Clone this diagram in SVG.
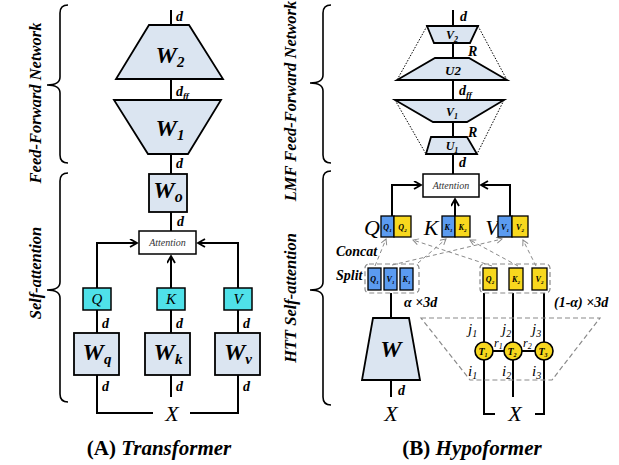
<svg xmlns="http://www.w3.org/2000/svg" width="619" height="465" viewBox="0 0 619 465" font-family="Liberation Serif, serif">
<style>
.bi{font-family:"Liberation Serif",serif;font-weight:bold;font-style:italic}
.it{font-family:"Liberation Serif",serif;font-style:italic}
.side{font-family:"Liberation Serif",serif;font-size:16.5px;font-weight:bold;font-style:italic}
.dl{font-family:"Liberation Serif",serif;font-size:14px;font-weight:bold;font-style:italic}
.big{font-family:"Liberation Serif",serif;font-size:24px;font-weight:bold;font-style:italic}
.sm{font-family:"Liberation Serif",serif;font-size:8px;font-weight:bold;font-style:italic}
.cap{font-family:"Liberation Serif",serif;font-size:21px;font-weight:bold}
.wbox{fill:#dbe5f1;stroke:#000;stroke-width:1.8}
.cyan{fill:#4fe1e9;stroke:#000;stroke-width:1.5}
.blue{fill:#5b9bf0;stroke:#000;stroke-width:1.3}
.yel{fill:#f8d81e;stroke:#000;stroke-width:1.3}
.att{fill:#fff;stroke:#000;stroke-width:1.5}
.ln{fill:none;stroke:#000;stroke-width:2}
.br{fill:none;stroke:#000;stroke-width:1.6}
.dot{fill:none;stroke:#000;stroke-width:1;stroke-dasharray:1.5 1.5}
.gd{fill:none;stroke:#8a8a8a;stroke-width:1.2;stroke-dasharray:5 3}
.ga{fill:none;stroke:#8a8a8a;stroke-width:1;stroke-dasharray:4 3}
</style>
<defs>
<marker id="ah" markerUnits="userSpaceOnUse" markerWidth="10" markerHeight="10" refX="8" refY="4.5" orient="auto"><path d="M1,0.5 L8,4.5 L1,8.5" fill="none" stroke="#000" stroke-width="1.8"/></marker>
<marker id="ag" markerUnits="userSpaceOnUse" markerWidth="8" markerHeight="8" refX="6" refY="3.5" orient="auto"><path d="M0.5,0.5 L6,3.5 L0.5,6.5" fill="none" stroke="#8a8a8a" stroke-width="1"/></marker>
</defs>

<g id="braces">
<path class="br" d="M68,5 Q60,5 60,13 L60,77 Q60,85 47,85 Q60,85 60,93 L60,155 Q60,163 68,163"/>
<path class="br" d="M68,173 Q60,173 60,181 L60,282 Q60,290 47,290 Q60,290 60,298 L60,394 Q60,402 68,402"/>
<path class="br" d="M331,5 Q323,5 323,13 L323,75 Q323,83 310,83 Q323,83 323,91 L323,155 Q323,163 331,163"/>
<path class="br" d="M331,171 Q323,171 323,179 L323,282 Q323,290 310,290 Q323,290 323,298 L323,397 Q323,405 331,405"/>
</g>
<g id="side-labels">
<text class="side" text-anchor="middle" transform="translate(41,103) rotate(-90)">Feed-Forward Network</text>
<text class="side" text-anchor="middle" transform="translate(41,273) rotate(-90)">Self-attention</text>
<text class="side" text-anchor="middle" transform="translate(296,101) rotate(-90)">LMF Feed-Forward Network</text>
<text class="side" text-anchor="middle" transform="translate(296,298) rotate(-90)">HTT Self-attention</text>
</g>

<g id="connectors-a">
<line class="ln" x1="171" y1="10" x2="171" y2="25"/>
<line class="ln" x1="171" y1="79" x2="171" y2="100"/>
<line class="ln" x1="171" y1="154" x2="171" y2="174"/>
<line class="ln" x1="171" y1="212" x2="171" y2="231"/>
<polyline class="ln" points="97,288 97,243 137,243" marker-end="url(#ah)"/>
<polyline class="ln" points="238,288 238,243 198,243" marker-end="url(#ah)"/>
<line class="ln" x1="171" y1="288" x2="171" y2="256" marker-end="url(#ah)"/>
<line class="ln" x1="97" y1="310" x2="97" y2="333"/>
<line class="ln" x1="171" y1="310" x2="171" y2="333"/>
<line class="ln" x1="238" y1="310" x2="238" y2="333"/>
<polyline class="ln" points="97,375 97,413 153,413"/>
<line class="ln" x1="171" y1="375" x2="171" y2="397"/>
<polyline class="ln" points="238,375 238,413 190,413"/>
</g>

<g id="a-labels">
<text class="dl" x="176" y="21">d</text>
<text class="dl" x="176" y="96">d<tspan font-size="9" dy="3">ff</tspan></text>
<text class="dl" x="176" y="168">d</text>
<text class="dl" x="177" y="226">d</text>
<text class="dl" x="102" y="328">d</text>
<text class="dl" x="176" y="328">d</text>
<text class="dl" x="243" y="328">d</text>
<text class="dl" x="102" y="391">d</text>
<text class="dl" x="176" y="391">d</text>
<text class="dl" x="243" y="391">d</text>
<text class="it" x="172" y="421" font-size="22" text-anchor="middle">X</text>
</g>

<g id="W2"><polygon class="wbox" points="149,25 189,25 223,79 116,79"/><text class="big" x="170" y="63" text-anchor="middle">W<tspan font-size="15" dy="4">2</tspan></text></g>
<g id="W1"><polygon class="wbox" points="114,100 221,100 188,154 148,154"/><text class="big" x="170" y="136" text-anchor="middle">W<tspan font-size="15" dy="4">1</tspan></text></g>
<g id="Wo"><rect class="wbox" x="149" y="174" width="38" height="38"/><text class="big" x="168" y="198" text-anchor="middle">W<tspan font-size="16" dy="4">o</tspan></text></g>
<g id="attention-a"><rect class="att" x="139" y="231" width="57" height="23"/><text class="it" x="167.5" y="246" font-size="10" text-anchor="middle" fill="#333">Attention</text></g>
<g id="Q-a"><rect class="cyan" x="83" y="288" width="28" height="22"/><text class="it" x="97" y="304" font-size="15" text-anchor="middle">Q</text></g>
<g id="K-a"><rect class="cyan" x="157" y="288" width="28" height="22"/><text class="it" x="171" y="304" font-size="15" text-anchor="middle">K</text></g>
<g id="V-a"><rect class="cyan" x="224" y="288" width="28" height="22"/><text class="it" x="238" y="304" font-size="15" text-anchor="middle">V</text></g>
<g id="Wq"><rect class="wbox" x="74" y="333" width="45" height="42"/><text class="big" x="97" y="360" text-anchor="middle">W<tspan font-size="15" dy="4">q</tspan></text></g>
<g id="Wk"><rect class="wbox" x="145" y="333" width="45" height="42"/><text class="big" x="168" y="360" text-anchor="middle">W<tspan font-size="15" dy="4">k</tspan></text></g>
<g id="Wv"><rect class="wbox" x="215" y="333" width="45" height="42"/><text class="big" x="238" y="360" text-anchor="middle">W<tspan font-size="15" dy="4">v</tspan></text></g>

<text id="caption-a" x="159" y="455" text-anchor="middle" class="cap">(A) <tspan font-style="italic">Transformer</tspan></text>

<g id="connectors-b">
<line class="ln" x1="453" y1="10" x2="453" y2="26"/>
<line class="ln" x1="453" y1="43" x2="453" y2="58"/>
<line class="ln" x1="453" y1="80" x2="453" y2="100"/>
<line class="ln" x1="453" y1="122" x2="453" y2="137"/>
<line class="ln" x1="453" y1="154" x2="453" y2="174"/>
<line class="dot" x1="427" y1="26" x2="397" y2="80"/>
<line class="dot" x1="478" y1="26" x2="507" y2="80"/>
<line class="dot" x1="395" y1="100" x2="426" y2="154"/>
<line class="dot" x1="504" y1="100" x2="477" y2="154"/>
<polyline class="ln" points="392,216 392,185 421,185" marker-end="url(#ah)"/>
<polyline class="ln" points="510,216 510,185 481,185" marker-end="url(#ah)"/>
<line class="ln" x1="455" y1="216" x2="455" y2="199" marker-end="url(#ah)"/>
<line class="ga" x1="375" y1="266" x2="386" y2="239" marker-end="url(#ag)"/>
<line class="ga" x1="392" y1="265" x2="502" y2="239" marker-end="url(#ag)"/>
<line class="ga" x1="418" y1="263" x2="446" y2="239" marker-end="url(#ag)"/>
<line class="ga" x1="492" y1="266" x2="413" y2="240" marker-end="url(#ag)"/>
<line class="ga" x1="518" y1="266" x2="470" y2="240" marker-end="url(#ag)"/>
<line class="ga" x1="536" y1="266" x2="523" y2="240" marker-end="url(#ag)"/>
<line class="ln" x1="391" y1="293" x2="391" y2="318"/>
<line class="ln" x1="391" y1="380" x2="391" y2="397"/>
<polyline class="ln" points="484,293 484,414 495,414"/>
<line class="ln" x1="513" y1="293" x2="513" y2="397"/>
<polyline class="ln" points="544,293 544,414 535,414"/>
<path class="gd" d="M421,318 L600,318 L552,380 L470,380 Z"/>
<line class="ln" x1="484" y1="351" x2="544" y2="351"/>
</g>

<g id="b-labels">
<text class="dl" x="460" y="21">d</text>
<text class="dl" x="468" y="56" font-size="13">R</text>
<text class="dl" x="459" y="95">d<tspan font-size="9" dy="3">ff</tspan></text>
<text class="dl" x="468" y="137" font-size="13">R</text>
<text class="dl" x="459" y="167">d</text>
<text class="dl" x="336" y="256">Concat</text>
<text class="dl" x="336" y="280">Split</text>
<text class="dl" x="404" y="307">&#945; &#215;3d</text>
<text class="dl" x="554" y="307">(1-&#945;) &#215;3d</text>
<text class="it" x="372" y="235" font-size="22" text-anchor="middle">Q</text>
<text class="it" x="431" y="235" font-size="22" text-anchor="middle">K</text>
<text class="it" x="492" y="235" font-size="22" text-anchor="middle">V</text>
<text class="dl" x="398" y="395">d</text>
<text class="it" x="391" y="421" font-size="22" text-anchor="middle">X</text>
<text class="it" x="515" y="421" font-size="22" text-anchor="middle">X</text>
<text class="it" x="468" y="334" font-size="15">j<tspan font-size="10" dy="3">1</tspan></text>
<text class="it" x="502" y="334" font-size="15">j<tspan font-size="10" dy="3">2</tspan></text>
<text class="it" x="532" y="334" font-size="15">j<tspan font-size="10" dy="3">3</tspan></text>
<text class="it" x="468" y="376" font-size="15">i<tspan font-size="10" dy="3">1</tspan></text>
<text class="it" x="502" y="376" font-size="15">i<tspan font-size="10" dy="3">2</tspan></text>
<text class="it" x="532" y="376" font-size="15">i<tspan font-size="10" dy="3">3</tspan></text>
<text class="it" x="494" y="347" font-size="12">r<tspan font-size="8" dy="2">1</tspan></text>
<text class="it" x="523" y="347" font-size="12">r<tspan font-size="8" dy="2">2</tspan></text>
</g>

<g id="V2"><polygon class="wbox" points="427,26 478,26 470,43 434,43"/><text class="bi" x="452" y="39" font-size="12" text-anchor="middle">V<tspan font-size="8" dy="3">2</tspan></text></g>
<g id="U2"><polygon class="wbox" points="435,58 469,58 507,80 397,80"/><text class="bi" x="453" y="75" font-size="13" text-anchor="middle">U2</text></g>
<g id="V1"><polygon class="wbox" points="395,100 504,100 467,122 433,122"/><text class="bi" x="452" y="116" font-size="12" text-anchor="middle">V<tspan font-size="8" dy="3">1</tspan></text></g>
<g id="U1"><polygon class="wbox" points="431,137 467,137 477,154 426,154"/><text class="bi" x="452" y="150" font-size="12" text-anchor="middle">U<tspan font-size="8" dy="3">1</tspan></text></g>
<g id="attention-b"><rect class="att" x="423" y="174" width="56" height="23"/><text class="it" x="451" y="189" font-size="10" text-anchor="middle" fill="#333">Attention</text></g>

<g id="Q-concat"><rect class="blue" x="381" y="216" width="13" height="21"/><rect class="yel" x="394" y="216" width="17" height="21"/><text class="sm" x="387.5" y="230" text-anchor="middle">Q<tspan font-size="5" dy="2">1</tspan></text><text class="sm" x="402.5" y="230" text-anchor="middle">Q<tspan font-size="5" dy="2">2</tspan></text></g>
<g id="K-concat"><rect class="blue" x="442" y="216" width="13" height="21"/><rect class="yel" x="455" y="216" width="15" height="21"/><text class="sm" x="448.5" y="230" text-anchor="middle">K<tspan font-size="5" dy="2">1</tspan></text><text class="sm" x="462.5" y="230" text-anchor="middle">K<tspan font-size="5" dy="2">2</tspan></text></g>
<g id="V-concat"><rect class="blue" x="498" y="216" width="14" height="21"/><rect class="yel" x="512" y="216" width="16" height="21"/><text class="sm" x="505" y="230" text-anchor="middle">V<tspan font-size="5" dy="2">1</tspan></text><text class="sm" x="520" y="230" text-anchor="middle">V<tspan font-size="5" dy="2">2</tspan></text></g>

<g id="split-left"><rect class="gd" x="365" y="264" width="54" height="29" rx="4"/>
<rect class="blue" x="368" y="268" width="13" height="22"/><rect class="blue" x="384" y="268" width="13" height="22"/><rect class="blue" x="400" y="268" width="13" height="22"/>
<text class="sm" x="374.5" y="282" text-anchor="middle">Q<tspan font-size="5" dy="2">1</tspan></text><text class="sm" x="390.5" y="282" text-anchor="middle">V<tspan font-size="5" dy="2">1</tspan></text><text class="sm" x="406.5" y="282" text-anchor="middle">K<tspan font-size="5" dy="2">1</tspan></text></g>
<g id="split-right"><rect class="gd" x="480" y="264" width="70" height="29" rx="4"/>
<rect class="yel" x="483" y="268" width="14" height="22"/><rect class="yel" x="509" y="268" width="14" height="22"/><rect class="yel" x="532" y="268" width="15" height="22"/>
<text class="sm" x="490" y="282" text-anchor="middle">Q<tspan font-size="5" dy="2">2</tspan></text><text class="sm" x="516" y="282" text-anchor="middle">K<tspan font-size="5" dy="2">2</tspan></text><text class="sm" x="539.5" y="282" text-anchor="middle">V<tspan font-size="5" dy="2">2</tspan></text></g>

<g id="W-b"><polygon class="wbox" points="373,318 409,318 420,380 362,380"/><text class="big" x="391" y="357" text-anchor="middle">W</text></g>
<g id="T1"><circle cx="484" cy="351" r="9" fill="#f8d81e" stroke="#000" stroke-width="1.6"/><text class="bi" x="483" y="355" font-size="10" text-anchor="middle">T<tspan font-size="6" dy="2">1</tspan></text></g>
<g id="T2"><circle cx="513" cy="351" r="9" fill="#f8d81e" stroke="#000" stroke-width="1.6"/><text class="bi" x="512" y="355" font-size="10" text-anchor="middle">T<tspan font-size="6" dy="2">2</tspan></text></g>
<g id="T3"><circle cx="544" cy="351" r="9" fill="#f8d81e" stroke="#000" stroke-width="1.6"/><text class="bi" x="543" y="355" font-size="10" text-anchor="middle">T<tspan font-size="6" dy="2">3</tspan></text></g>

<text id="caption-b" x="472" y="455" text-anchor="middle" class="cap">(B) <tspan font-style="italic">Hypoformer</tspan></text>
</svg>
